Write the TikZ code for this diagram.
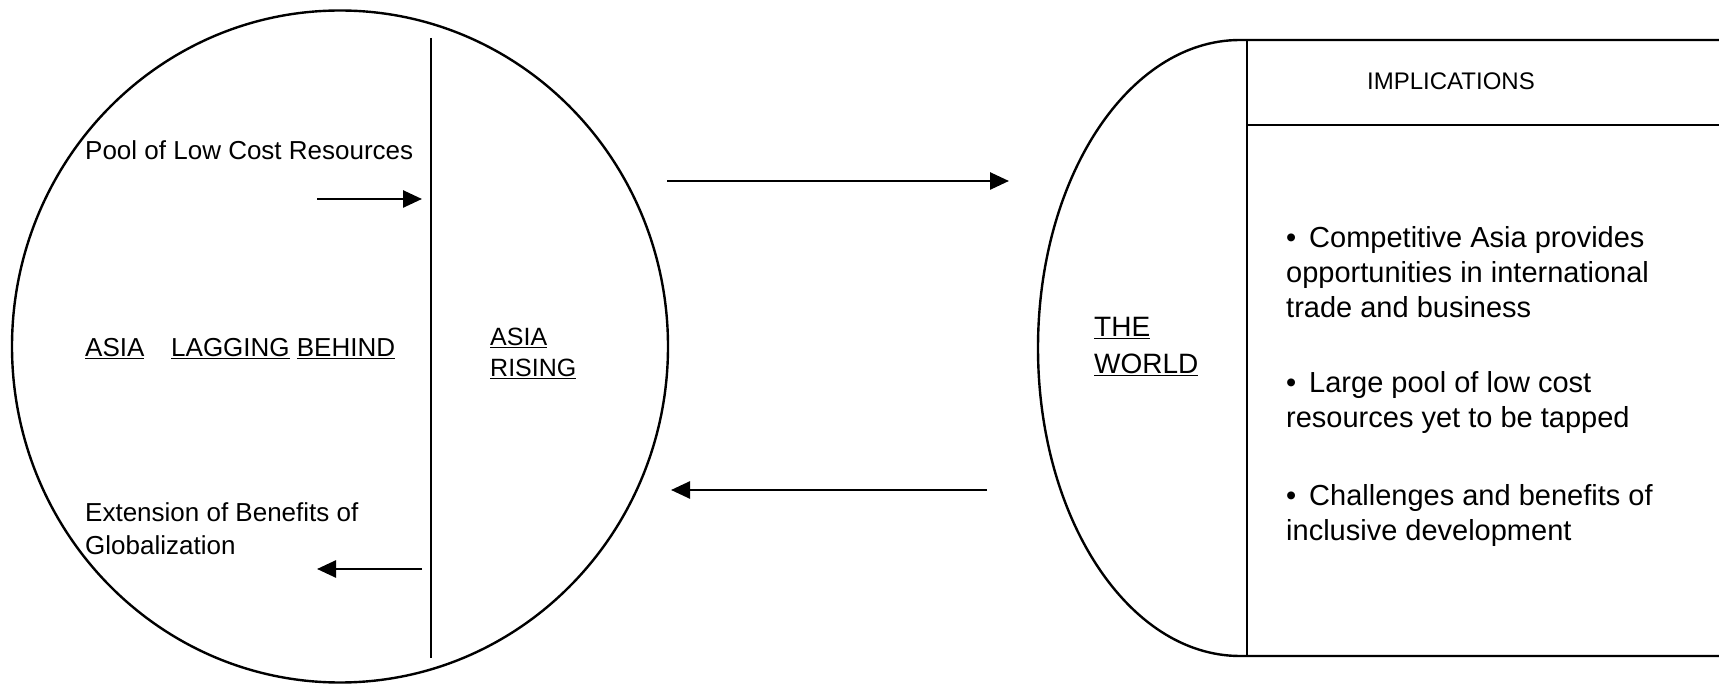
\documentclass[tikz,border=0pt]{standalone}
\usepackage{fontspec}
\setmainfont{Liberation Sans}
\usetikzlibrary{shapes.geometric,arrows.meta}
\begin{document}
\begin{tikzpicture}[x=1pt,y=1pt,
  bline/.style={line width=2.4pt},
  arr/.style={line width=2.6pt,-{Triangle[length=19pt,width=17pt]}},
  lbl/.style={inner sep=0pt,anchor=base west,font=\fontsize{26}{31}\selectfont},
  rlbl/.style={inner sep=0pt,anchor=base west,font=\fontsize{25}{31}\selectfont},
  wlbl/.style={inner sep=0pt,anchor=base west,font=\fontsize{28}{34}\selectfont},
  bul/.style={inner sep=0pt,anchor=base west,font=\fontsize{29}{35}\selectfont},
]
\fill[white] (0,0) rectangle (1719,683);
\useasboundingbox (0,0) rectangle (1719,683);

% left circle
\node[draw,bline,ellipse,minimum width=656pt,minimum height=672pt,inner sep=0pt] (asia) at (340,336.5) {};
\coordinate (divtop) at (431,645);
\coordinate (divbot) at (431,25);
\draw[bline] (divtop) -- (divbot);

\node[lbl] (pool) at (85,523) {Pool of Low Cost Resources};
\coordinate (a1s) at (317,484);
\coordinate (a1e) at (422,484);
\draw[arr] (a1s) -- (a1e);

\node[lbl] (asiaL) at (85,326) {\underline{ASIA}};
\node[lbl] (lag) at (171,326) {\underline{LAGGING} \underline{BEHIND}};

\node[rlbl] (asiaR) at (490,337) {\underline{ASIA}};
\node[rlbl] (rising) at (490,306) {\underline{RISING}};

\node[lbl] (ext1) at (85,161) {Extension of Benefits of};
\node[lbl] (ext2) at (85,128) {Globalization};
\coordinate (a2s) at (422,114);
\coordinate (a2e) at (317,114);
\draw[arr] (a2s) -- (a2e);

% big arrows
\coordinate (b1s) at (667,502);
\coordinate (b1e) at (1009,502);
\draw[arr] (b1s) -- (b1e);
\coordinate (b2s) at (987,193);
\coordinate (b2e) at (671,193);
\draw[arr] (b2s) -- (b2e);

% right shape
\coordinate (rtr) at (1719,643);
\coordinate (rbr) at (1719,27);
\draw[bline] (rtr) -- (1240,643) arc[start angle=90,end angle=270,x radius=202,y radius=308] -- (rbr);
\coordinate (vtop) at (1247,643);
\coordinate (vbot) at (1247,27);
\draw[bline] (vtop) -- (vbot);
\coordinate (hl) at (1247,558);
\coordinate (hr) at (1719,558);
\draw[bline] (hl) -- (hr);

\node[inner sep=0pt,anchor=base,font=\fontsize{24}{30}\selectfont] (impl) at (1451,593) {IMPLICATIONS};

\node[wlbl] (the) at (1094,346) {\underline{THE}};
\node[wlbl] (world) at (1094,309) {\underline{WORLD}};

\node[bul] (b1a) at (1286,435) {\textbullet\ \,Competitive Asia provides};
\node[bul] (b1b) at (1286,400) {opportunities in international};
\node[bul] (b1c) at (1286,365) {trade and business};
\node[bul] (b2a) at (1286,290) {\textbullet\ \,Large pool of low cost};
\node[bul] (b2b) at (1286,255) {resources yet to be tapped};
\node[bul] (b3a) at (1286,177) {\textbullet\ \,Challenges and benefits of};
\node[bul] (b3b) at (1286,142) {inclusive development};
\end{tikzpicture}
\end{document}
